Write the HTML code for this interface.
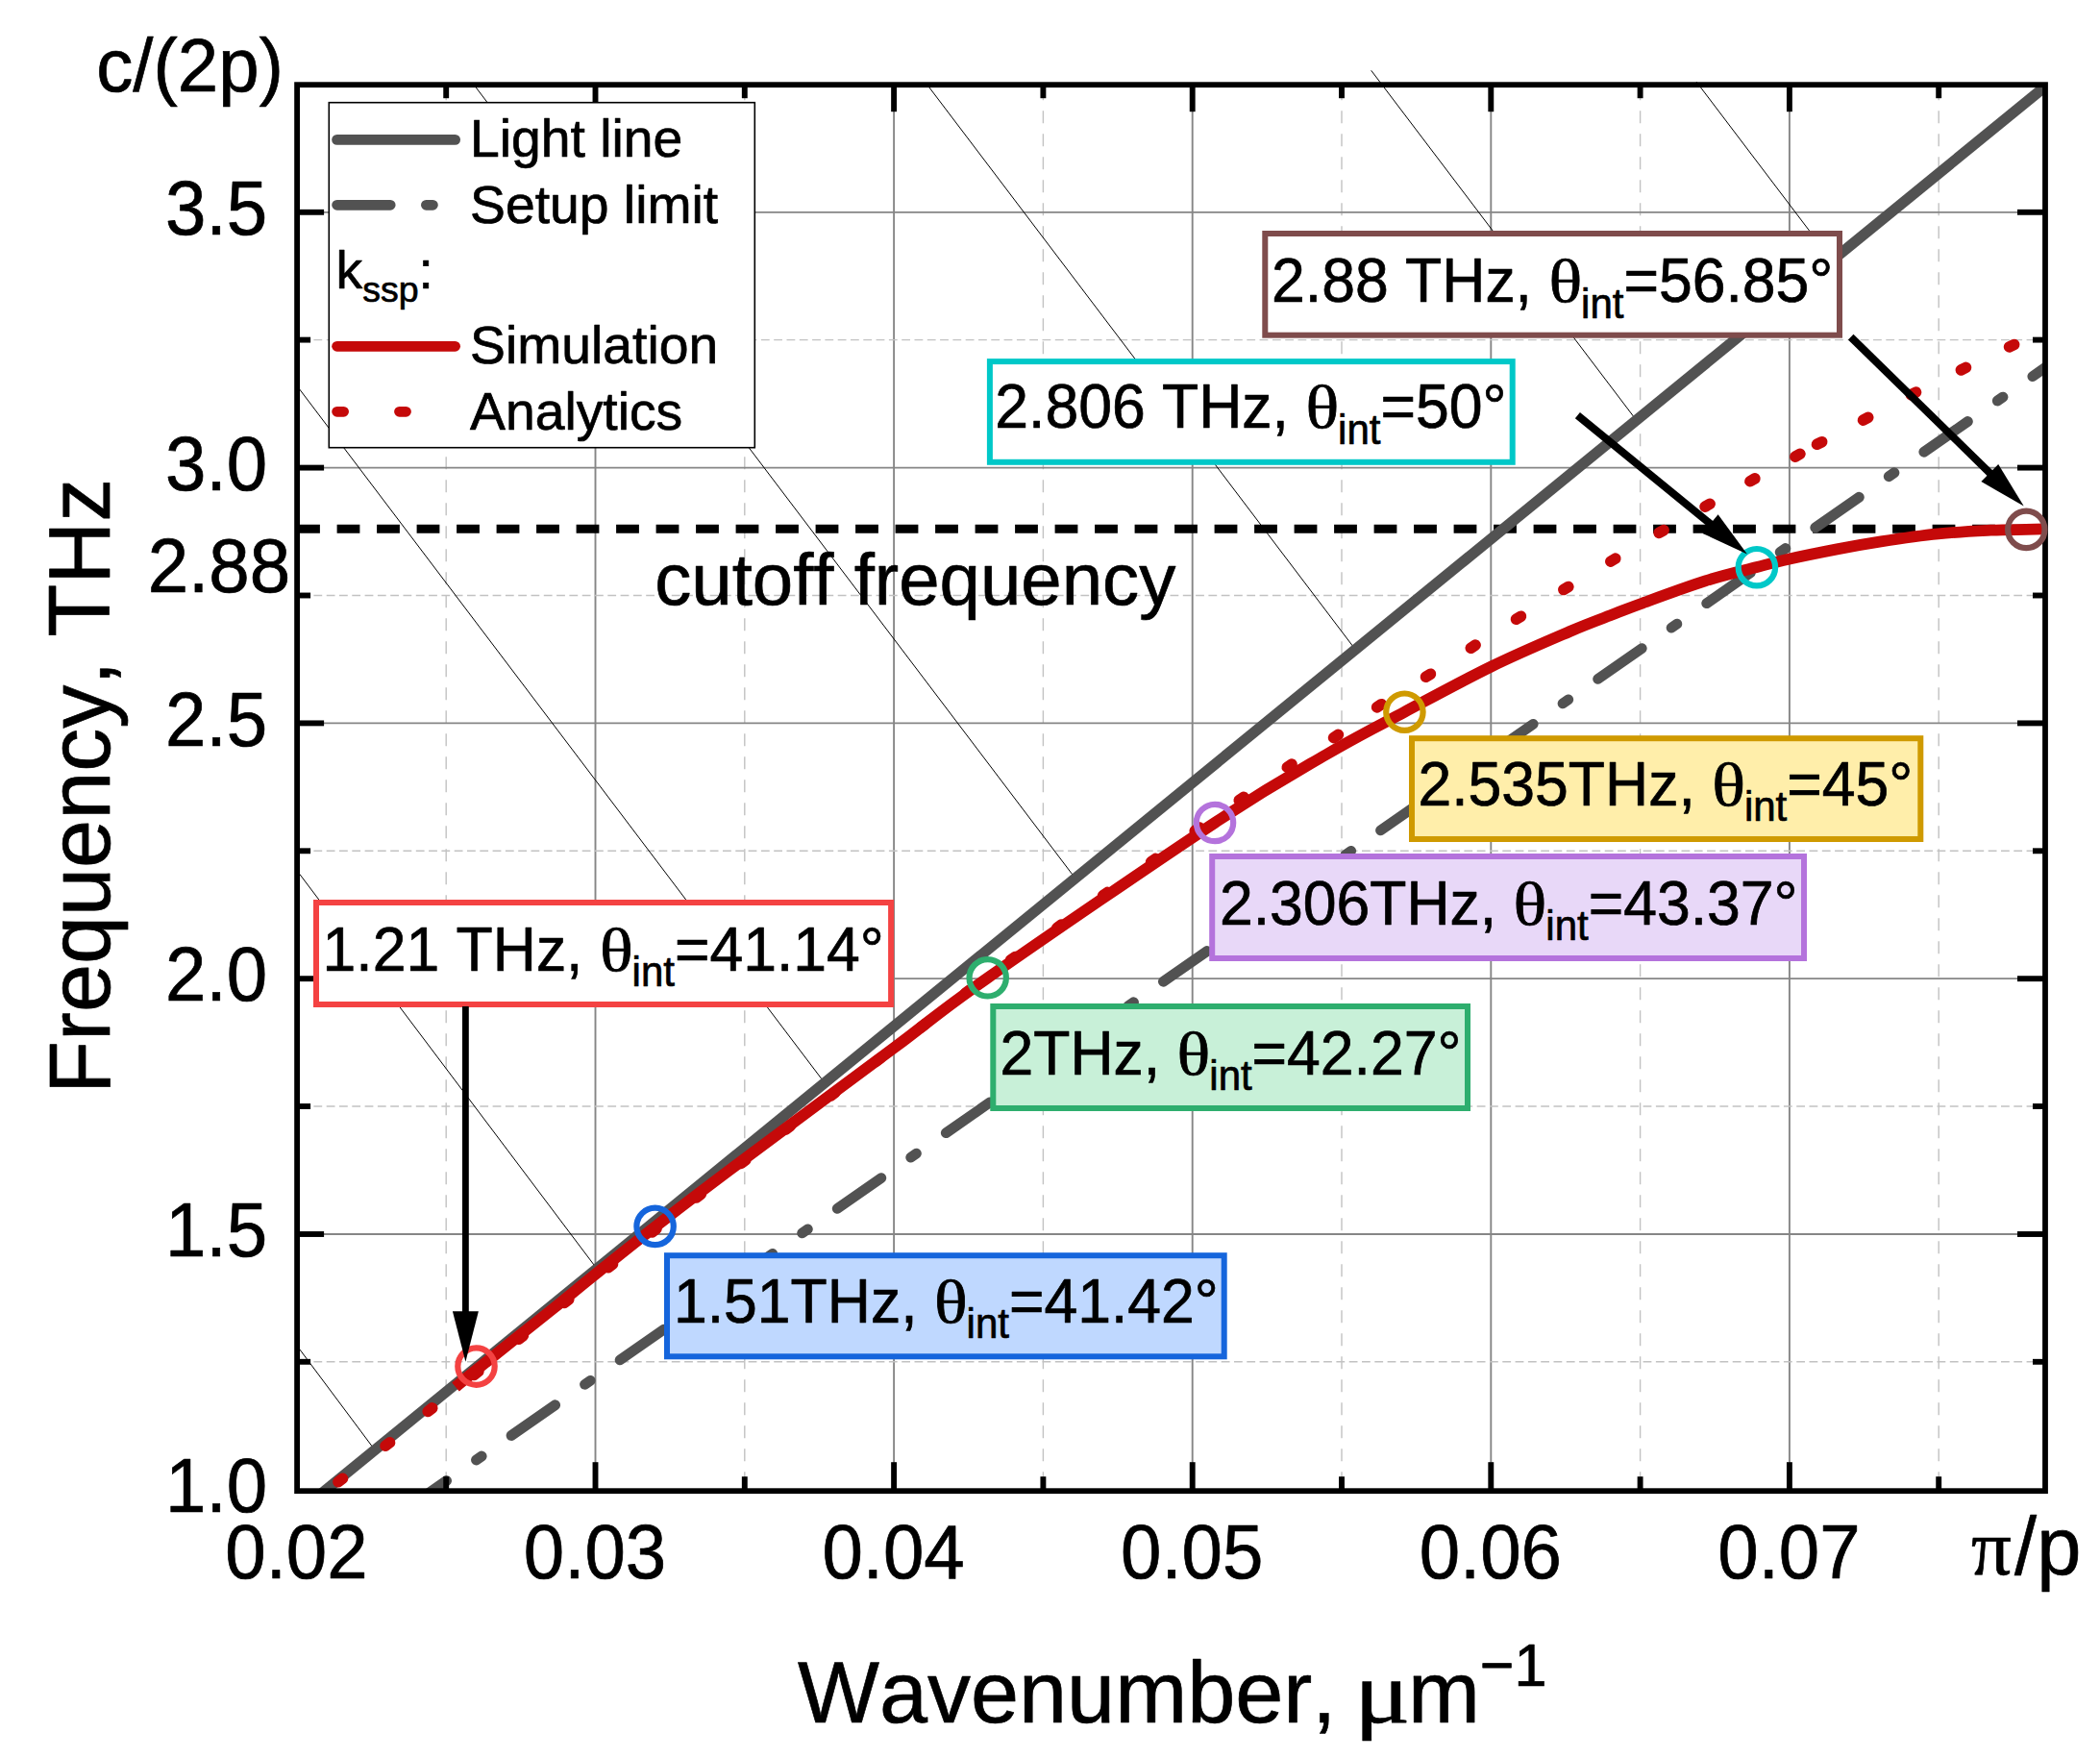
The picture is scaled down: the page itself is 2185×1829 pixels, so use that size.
<!DOCTYPE html>
<html><head><meta charset="utf-8"><title>Dispersion plot</title><style>html,body{margin:0;padding:0;background:#fff}svg{display:block}text{font-kerning:none;stroke:#000;stroke-width:0.7px;stroke-linejoin:round}</style></head><body>
<svg width="2185" height="1829" viewBox="0 0 2185 1829" font-family="Liberation Sans, Arial, sans-serif">
<rect width="2185" height="1829" fill="#fff"/>
<defs><clipPath id="pc"><rect x="309.1" y="88.2" width="1818.9" height="1463.0"/></clipPath><clipPath id="pc2"><rect x="309.1" y="72.2" width="1818.9" height="1479.0"/></clipPath></defs>
<g><line x1="619.5" y1="88.2" x2="619.5" y2="1551.2" stroke="#868686" stroke-width="1.9"/><line x1="930.1" y1="88.2" x2="930.1" y2="1551.2" stroke="#868686" stroke-width="1.9"/><line x1="1240.7" y1="88.2" x2="1240.7" y2="1551.2" stroke="#868686" stroke-width="1.9"/><line x1="1551.3" y1="88.2" x2="1551.3" y2="1551.2" stroke="#868686" stroke-width="1.9"/><line x1="1861.9" y1="88.2" x2="1861.9" y2="1551.2" stroke="#868686" stroke-width="1.9"/><line x1="464.2" y1="91.2" x2="464.2" y2="1551.2" stroke="#c2c2c2" stroke-width="1.4" stroke-dasharray="13 11"/><line x1="774.8" y1="91.2" x2="774.8" y2="1551.2" stroke="#c2c2c2" stroke-width="1.4" stroke-dasharray="13 11"/><line x1="1085.4" y1="91.2" x2="1085.4" y2="1551.2" stroke="#c2c2c2" stroke-width="1.4" stroke-dasharray="13 11"/><line x1="1396.0" y1="91.2" x2="1396.0" y2="1551.2" stroke="#c2c2c2" stroke-width="1.4" stroke-dasharray="13 11"/><line x1="1706.6" y1="91.2" x2="1706.6" y2="1551.2" stroke="#c2c2c2" stroke-width="1.4" stroke-dasharray="13 11"/><line x1="2017.2" y1="91.2" x2="2017.2" y2="1551.2" stroke="#c2c2c2" stroke-width="1.4" stroke-dasharray="13 11"/><line x1="309.1" y1="1284.0" x2="2128.0" y2="1284.0" stroke="#868686" stroke-width="1.8"/><line x1="309.1" y1="1018.2" x2="2128.0" y2="1018.2" stroke="#868686" stroke-width="1.8"/><line x1="309.1" y1="752.4" x2="2128.0" y2="752.4" stroke="#868686" stroke-width="1.8"/><line x1="309.1" y1="486.6" x2="2128.0" y2="486.6" stroke="#868686" stroke-width="1.8"/><line x1="309.1" y1="220.8" x2="2128.0" y2="220.8" stroke="#868686" stroke-width="1.8"/><line x1="313.1" y1="1416.8" x2="2128.0" y2="1416.8" stroke="#c2c2c2" stroke-width="1.4" stroke-dasharray="8.8 4.5"/><line x1="313.1" y1="1151.0" x2="2128.0" y2="1151.0" stroke="#c2c2c2" stroke-width="1.4" stroke-dasharray="8.8 4.5"/><line x1="313.1" y1="885.3" x2="2128.0" y2="885.3" stroke="#c2c2c2" stroke-width="1.4" stroke-dasharray="8.8 4.5"/><line x1="313.1" y1="619.5" x2="2128.0" y2="619.5" stroke="#c2c2c2" stroke-width="1.4" stroke-dasharray="8.8 4.5"/><line x1="313.1" y1="353.6" x2="2128.0" y2="353.6" stroke="#c2c2c2" stroke-width="1.4" stroke-dasharray="8.8 4.5"/></g>
<g stroke="#000" stroke-width="1.0" clip-path="url(#pc2)"><line x1="311.7" y1="1403.7" x2="388.3" y2="1506.3"/><line x1="311.7" y1="909.3" x2="619.3" y2="1317.7"/><line x1="311.7" y1="405.0" x2="855.0" y2="1122.7"/><line x1="495.0" y1="90.7" x2="1116.7" y2="911.0"/><line x1="966.7" y1="90.7" x2="1411.7" y2="677.7"/><line x1="1426.7" y1="73.3" x2="1701.7" y2="436.0"/><line x1="1765.0" y1="85.0" x2="1900.0" y2="263.0"/></g>
<g clip-path="url(#pc)">
<line x1="309.1" y1="550.2" x2="2128.0" y2="550.2" stroke="#000" stroke-width="8.9" stroke-dasharray="23.8 17.7" stroke-dashoffset="0"/>
<line x1="308.0" y1="1575.5" x2="2138.0" y2="81.8" stroke="#525252" stroke-width="11.2"/>
<line x1="380.0" y1="1599.4" x2="2148.0" y2="368.5" stroke="#525252" stroke-width="10.8" stroke-linecap="round" stroke-dasharray="55.6 37.58 7.0 37.58" stroke-dashoffset="-47.5"/>
<g stroke="#c50909" stroke-width="11.6" stroke-linecap="round"><line x1="2090.5" y1="360.9" x2="2095.7" y2="358.5"/><line x1="2040.3" y1="385.0" x2="2045.5" y2="382.4"/><line x1="1988.3" y1="410.7" x2="1993.5" y2="408.1"/><line x1="1938.5" y1="437.1" x2="1943.7" y2="434.3"/><line x1="1890.5" y1="462.3" x2="1895.7" y2="459.7"/><line x1="1867.9" y1="475.1" x2="1872.9" y2="472.3"/><line x1="1820.9" y1="500.7" x2="1825.9" y2="497.9"/><line x1="1774.1" y1="527.1" x2="1779.1" y2="524.3"/><line x1="1726.1" y1="554.4" x2="1731.1" y2="551.6"/><line x1="1675.8" y1="584.1" x2="1680.8" y2="581.1"/><line x1="1626.8" y1="613.5" x2="1631.8" y2="610.5"/><line x1="1577.5" y1="644.2" x2="1582.5" y2="641.2"/><line x1="1530.3" y1="674.3" x2="1535.1" y2="671.1"/><line x1="1483.5" y1="704.2" x2="1488.5" y2="701.2"/><line x1="1432.6" y1="735.9" x2="1437.4" y2="732.7"/><line x1="1387.6" y1="767.6" x2="1392.4" y2="764.4"/><line x1="1339.3" y1="798.3" x2="1344.1" y2="795.1"/><line x1="1289.3" y1="832.6" x2="1294.1" y2="829.4"/><line x1="351.9" y1="1541.8" x2="356.5" y2="1538.2"/><line x1="401.0" y1="1504.3" x2="405.6" y2="1500.7"/><line x1="445.2" y1="1468.5" x2="449.8" y2="1464.9"/><line x1="493.3" y1="1430.4" x2="497.9" y2="1426.8"/><line x1="539.8" y1="1393.2" x2="544.4" y2="1389.6"/><line x1="587.2" y1="1355.5" x2="591.8" y2="1351.9"/><line x1="632.9" y1="1318.8" x2="637.5" y2="1315.2"/><line x1="678.5" y1="1282.0" x2="683.0" y2="1278.4"/><line x1="724.7" y1="1246.0" x2="729.3" y2="1242.5"/><line x1="771.1" y1="1210.4" x2="775.8" y2="1206.9"/><line x1="817.8" y1="1175.0" x2="822.4" y2="1171.5"/><line x1="864.6" y1="1139.8" x2="869.2" y2="1136.3"/><line x1="911.3" y1="1104.5" x2="915.9" y2="1101.0"/><line x1="957.9" y1="1069.1" x2="962.5" y2="1065.6"/><line x1="1004.4" y1="1033.5" x2="1009.1" y2="1030.0"/><line x1="1051.6" y1="998.8" x2="1056.4" y2="995.5"/><line x1="1099.7" y1="965.4" x2="1104.4" y2="962.1"/><line x1="1147.6" y1="931.8" x2="1152.4" y2="928.4"/><line x1="1197.6" y1="896.8" x2="1202.4" y2="893.4"/><line x1="1243.2" y1="864.4" x2="1248.0" y2="861.0"/></g>
<path d="M474.0 1443.0C477.6 1440.0 478.8 1438.7 495.5 1425.3C512.2 1411.9 553.7 1379.0 574.3 1362.5C594.9 1346.0 601.0 1340.6 619.0 1326.2C637.0 1311.8 656.4 1295.9 682.3 1275.9C708.2 1255.9 733.1 1236.9 774.3 1206.0C815.5 1175.1 887.5 1122.0 929.7 1090.6C971.9 1059.1 972.0 1056.4 1027.7 1017.3C1083.4 978.2 1205.3 894.7 1264.0 856.0C1322.7 817.3 1347.1 804.2 1380.0 785.0C1412.9 765.8 1432.8 755.9 1461.4 740.7C1490.0 725.5 1522.8 707.6 1551.4 693.6C1580.1 679.6 1611.9 666.2 1633.3 657.0C1654.7 647.8 1667.7 643.4 1680.0 638.6C1692.3 633.8 1691.3 633.9 1707.0 628.2C1722.7 622.5 1754.1 610.8 1774.3 604.4C1794.5 598.0 1813.5 593.8 1828.0 590.0C1842.5 586.2 1847.2 584.8 1861.1 581.7C1875.0 578.6 1895.4 574.5 1911.4 571.4C1927.4 568.3 1939.6 566.1 1957.1 563.4C1974.6 560.7 1997.5 557.3 2016.6 555.4C2035.6 553.5 2056.2 552.5 2071.4 551.7C2086.6 551.0 2098.8 551.1 2108.0 550.9C2117.2 550.7 2123.2 550.5 2126.3 550.4" fill="none" stroke="#c50909" stroke-width="11.8" stroke-linecap="butt"/>
</g>
<g stroke="#000" stroke-width="5.9"><line x1="619.5" y1="1551.2" x2="619.5" y2="1521.2"/><line x1="619.5" y1="88.2" x2="619.5" y2="116.2"/><line x1="930.1" y1="1551.2" x2="930.1" y2="1521.2"/><line x1="930.1" y1="88.2" x2="930.1" y2="116.2"/><line x1="1240.7" y1="1551.2" x2="1240.7" y2="1521.2"/><line x1="1240.7" y1="88.2" x2="1240.7" y2="116.2"/><line x1="1551.3" y1="1551.2" x2="1551.3" y2="1521.2"/><line x1="1551.3" y1="88.2" x2="1551.3" y2="116.2"/><line x1="1861.9" y1="1551.2" x2="1861.9" y2="1521.2"/><line x1="1861.9" y1="88.2" x2="1861.9" y2="116.2"/><line x1="464.2" y1="1551.2" x2="464.2" y2="1536.2"/><line x1="464.2" y1="88.2" x2="464.2" y2="102.2"/><line x1="774.8" y1="1551.2" x2="774.8" y2="1536.2"/><line x1="774.8" y1="88.2" x2="774.8" y2="102.2"/><line x1="1085.4" y1="1551.2" x2="1085.4" y2="1536.2"/><line x1="1085.4" y1="88.2" x2="1085.4" y2="102.2"/><line x1="1396.0" y1="1551.2" x2="1396.0" y2="1536.2"/><line x1="1396.0" y1="88.2" x2="1396.0" y2="102.2"/><line x1="1706.6" y1="1551.2" x2="1706.6" y2="1536.2"/><line x1="1706.6" y1="88.2" x2="1706.6" y2="102.2"/><line x1="2017.2" y1="1551.2" x2="2017.2" y2="1536.2"/><line x1="2017.2" y1="88.2" x2="2017.2" y2="102.2"/><line x1="309.1" y1="1284.0" x2="337.1" y2="1284.0"/><line x1="2128.0" y1="1284.0" x2="2099.0" y2="1284.0"/><line x1="309.1" y1="1018.2" x2="337.1" y2="1018.2"/><line x1="2128.0" y1="1018.2" x2="2099.0" y2="1018.2"/><line x1="309.1" y1="752.4" x2="337.1" y2="752.4"/><line x1="2128.0" y1="752.4" x2="2099.0" y2="752.4"/><line x1="309.1" y1="486.6" x2="337.1" y2="486.6"/><line x1="2128.0" y1="486.6" x2="2099.0" y2="486.6"/><line x1="309.1" y1="220.8" x2="337.1" y2="220.8"/><line x1="2128.0" y1="220.8" x2="2099.0" y2="220.8"/><line x1="309.1" y1="1416.8" x2="323.1" y2="1416.8"/><line x1="2128.0" y1="1416.8" x2="2115.0" y2="1416.8"/><line x1="309.1" y1="1151.0" x2="323.1" y2="1151.0"/><line x1="2128.0" y1="1151.0" x2="2115.0" y2="1151.0"/><line x1="309.1" y1="885.3" x2="323.1" y2="885.3"/><line x1="2128.0" y1="885.3" x2="2115.0" y2="885.3"/><line x1="309.1" y1="619.5" x2="323.1" y2="619.5"/><line x1="2128.0" y1="619.5" x2="2115.0" y2="619.5"/><line x1="309.1" y1="353.6" x2="323.1" y2="353.6"/><line x1="2128.0" y1="353.6" x2="2115.0" y2="353.6"/></g>
<rect x="309.1" y="88.2" width="1818.9" height="1463.0" fill="none" stroke="#000" stroke-width="5.8"/>
<text transform="translate(308.4,1642) scale(1,1.04)" font-size="76.2" text-anchor="middle">0.02</text>
<text transform="translate(619.0,1642) scale(1,1.04)" font-size="76.2" text-anchor="middle">0.03</text>
<text transform="translate(929.6,1642) scale(1,1.04)" font-size="76.2" text-anchor="middle">0.04</text>
<text transform="translate(1240.2,1642) scale(1,1.04)" font-size="76.2" text-anchor="middle">0.05</text>
<text transform="translate(1550.8,1642) scale(1,1.04)" font-size="76.2" text-anchor="middle">0.06</text>
<text transform="translate(1861.4,1642) scale(1,1.04)" font-size="76.2" text-anchor="middle">0.07</text>
<text transform="translate(2051,1637.8) scale(1,1.0)" font-size="83" font-family="Liberation Serif, Times New Roman, serif">π</text>
<text transform="translate(2096.1,1637.8) scale(1,1.03)" font-size="83" text-anchor="start">/p</text>
<text transform="translate(278,1573.0) scale(1,1.04)" font-size="76.2" text-anchor="end">1.0</text>
<text transform="translate(278,1307.2) scale(1,1.04)" font-size="76.2" text-anchor="end">1.5</text>
<text transform="translate(278,1041.4) scale(1,1.04)" font-size="76.2" text-anchor="end">2.0</text>
<text transform="translate(278,775.6) scale(1,1.04)" font-size="76.2" text-anchor="end">2.5</text>
<text transform="translate(278,509.8) scale(1,1.04)" font-size="76.2" text-anchor="end">3.0</text>
<text transform="translate(278,243.9) scale(1,1.04)" font-size="76.2" text-anchor="end">3.5</text>
<text transform="translate(302,616) scale(1,1.04)" font-size="76.2" text-anchor="end">2.88</text>
<text transform="translate(100.2,95) scale(1,1.03)" font-size="76.2" text-anchor="start">c/(2p)</text>
<text transform="translate(113.5,1138) rotate(-90)" font-size="90" text-anchor="start">Frequency, THz</text>
<text transform="translate(830,1792.3)" font-size="90" text-anchor="start">Wavenumber,</text>
<text transform="translate(1409,1792.3) scale(1.213,1)" font-size="90" font-family="Liberation Serif, Times New Roman, serif">μ</text>
<text transform="translate(1464.9,1792.3)" font-size="90" text-anchor="start">m</text>
<text transform="translate(1539.8,1753.9) scale(1,1.04)" font-size="61" text-anchor="start">−1</text>
<text transform="translate(681.2,629)" font-size="76.2" text-anchor="start">cutoff frequency</text>
<rect x="342.3" y="106.7" width="443" height="359" fill="#fff" stroke="#000" stroke-width="1.6"/>
<line x1="350.6" y1="145.4" x2="473.6" y2="145.4" stroke="#525252" stroke-width="10.8" stroke-linecap="round"/>
<text x="489" y="163.3" font-size="55.3">Light line</text>
<line x1="350.6" y1="213.3" x2="460" y2="213.3" stroke="#525252" stroke-width="10.8" stroke-linecap="round" stroke-dasharray="55.6 37.2 7 37.2"/>
<text x="489" y="231.7" font-size="55.3">Setup limit</text>
<text x="349.5" y="300" font-size="55.3">k<tspan font-size="37.5" dy="14">ssp</tspan><tspan dy="-14">:</tspan></text>
<line x1="350.6" y1="360.3" x2="473.6" y2="360.3" stroke="#c50909" stroke-width="10.8" stroke-linecap="round"/>
<text x="489" y="378.3" font-size="55.3">Simulation</text>
<line x1="350.6" y1="428.3" x2="440" y2="428.3" stroke="#c50909" stroke-width="10.8" stroke-linecap="round" stroke-dasharray="7 57.9"/>
<text x="489" y="446.7" font-size="55.3">Analytics</text>
<rect x="329.0" y="939.0" width="598.1" height="106.0" fill="#fff" stroke="#f44242" stroke-width="6.0"/>
<g font-size="62.5"><text transform="translate(335.6,1009.7) scale(1,1.04)">1.21 THz,</text><text transform="translate(623.9,1009.7) scale(1.16,1.025)" font-family="Liberation Serif, Times New Roman, serif">θ</text><text transform="translate(657.6,1025.9) scale(1,1.04)" font-size="42">int</text><text transform="translate(702.0,1009.7) scale(1,1.04)">=41.14°</text></g>
<rect x="1316.3" y="243.0" width="597.7" height="105.7" fill="#fff" stroke="#7f4c4c" stroke-width="6.0"/>
<g font-size="62.5"><text transform="translate(1323.1,314.4) scale(1,1.04)">2.88 THz,</text><text transform="translate(1611.4,314.4) scale(1.16,1.025)" font-family="Liberation Serif, Times New Roman, serif">θ</text><text transform="translate(1645.1,330.59999999999997) scale(1,1.04)" font-size="42">int</text><text transform="translate(1689.5,314.4) scale(1,1.04)">=56.85°</text></g>
<rect x="1029.9" y="376.1" width="543.8" height="104.7" fill="#fff" stroke="#00c8c8" stroke-width="6.0"/>
<g font-size="62.5"><text transform="translate(1035.3,445.3) scale(1,1.04)">2.806 THz,</text><text transform="translate(1358.4,445.3) scale(1.16,1.025)" font-family="Liberation Serif, Times New Roman, serif">θ</text><text transform="translate(1392.1,461.5) scale(1,1.04)" font-size="42">int</text><text transform="translate(1436.4,445.3) scale(1,1.04)">=50°</text></g>
<rect x="1469.0" y="768.2" width="529.3" height="104.8" fill="#ffeeaa" stroke="#cf9a00" stroke-width="6.0"/>
<g font-size="62.5"><text transform="translate(1475.5,837.7) scale(1,1.04)">2.535THz,</text><text transform="translate(1781.2,837.7) scale(1.16,1.025)" font-family="Liberation Serif, Times New Roman, serif">θ</text><text transform="translate(1814.9,853.9000000000001) scale(1,1.04)" font-size="42">int</text><text transform="translate(1859.3,837.7) scale(1,1.04)">=45°</text></g>
<rect x="1261.2" y="891.0" width="615.8" height="106.0" fill="#e8d8f8" stroke="#b473dc" stroke-width="6.0"/>
<g font-size="62.5"><text transform="translate(1268.9,961.7) scale(1,1.04)">2.306THz,</text><text transform="translate(1574.6,961.7) scale(1.16,1.025)" font-family="Liberation Serif, Times New Roman, serif">θ</text><text transform="translate(1608.3,977.9000000000001) scale(1,1.04)" font-size="42">int</text><text transform="translate(1652.7,961.7) scale(1,1.04)">=43.37°</text></g>
<rect x="1033.3" y="1047.0" width="493.7" height="106.0" fill="#c8f0d8" stroke="#2eae6e" stroke-width="6.0"/>
<g font-size="62.5"><text transform="translate(1040.5,1117.7) scale(1,1.04)">2THz,</text><text transform="translate(1224.6,1117.7) scale(1.16,1.025)" font-family="Liberation Serif, Times New Roman, serif">θ</text><text transform="translate(1258.3,1133.9) scale(1,1.04)" font-size="42">int</text><text transform="translate(1302.6,1117.7) scale(1,1.04)">=42.27°</text></g>
<rect x="694.0" y="1306.2" width="579.7" height="105.1" fill="#bfd8ff" stroke="#1565dc" stroke-width="6.0"/>
<g font-size="62.5"><text transform="translate(701,1375.7) scale(1,1.04)">1.51THz,</text><text transform="translate(971.9,1375.7) scale(1.16,1.025)" font-family="Liberation Serif, Times New Roman, serif">θ</text><text transform="translate(1005.6,1391.9) scale(1,1.04)" font-size="42">int</text><text transform="translate(1050.0,1375.7) scale(1,1.04)">=41.42°</text></g>
<circle cx="495.5" cy="1421.6" r="19.2" fill="none" stroke="#f44242" stroke-width="6.2"/>
<circle cx="681.6" cy="1275.9" r="19.2" fill="none" stroke="#1565dc" stroke-width="6.2"/>
<circle cx="1027.7" cy="1017.3" r="19.2" fill="none" stroke="#2eae6e" stroke-width="6.2"/>
<circle cx="1264" cy="856" r="19.2" fill="none" stroke="#b473dc" stroke-width="6.2"/>
<circle cx="1461.4" cy="740.7" r="19.2" fill="none" stroke="#cf9a00" stroke-width="6.2"/>
<circle cx="1827.9" cy="590.2" r="19.2" fill="none" stroke="#00c8c8" stroke-width="6.2"/>
<circle cx="2108.3" cy="550.9" r="19.2" fill="none" stroke="#7f4c4c" stroke-width="6.2"/>
<line x1="484.4" y1="1047.0" x2="484.4" y2="1368.3" stroke="#000" stroke-width="6.8"/>
<polygon points="484.4,1416.8 470.9,1364.3 497.9,1364.3" fill="#000"/>
<line x1="1641.4" y1="432.1" x2="1782.7" y2="547.6" stroke="#000" stroke-width="8.0"/>
<polygon points="1817.9,576.4 1771.5,554.9 1787.6,535.2" fill="#000"/>
<line x1="1925.7" y1="350.6" x2="2073.2" y2="494.8" stroke="#000" stroke-width="8.0"/>
<polygon points="2105.7,526.6 2061.4,501.1 2079.2,482.9" fill="#000"/>
</svg>
</body></html>
